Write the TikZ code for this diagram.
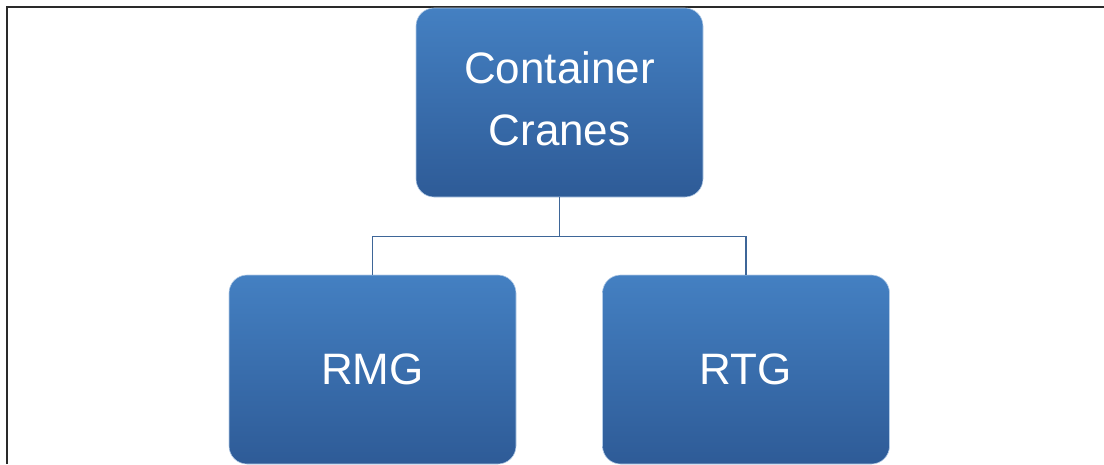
\documentclass[tikz,border=0pt]{standalone}
\usepackage{fontspec}
\setmainfont{Liberation Sans}
\definecolor{boxtop}{HTML}{4480C2}
\definecolor{boxmid}{HTML}{2A6CB3}
\definecolor{boxbot}{HTML}{2E5B97}
\definecolor{linkblue}{HTML}{3E6698}
\definecolor{framegray}{HTML}{2A2A2A}
\tikzset{
  orgbox/.style={rectangle, rounded corners=18pt, minimum width=287pt,
    top color=boxtop, middle color=boxmid, bottom color=boxbot,
    draw=boxtop!40!white, line width=0.6pt,
    text=white, align=center, inner sep=0pt,
    font=\fontsize{44}{62}\selectfont},
  link/.style={draw=linkblue, line width=1.6pt}
}
\begin{document}
\begin{tikzpicture}[x=1pt,y=-1pt]
  \useasboundingbox (0,0) rectangle (1104,464);
  % page frame: left and top edges
  \draw[framegray, line width=2pt] (6.5,464) -- (6.5,6.5) -- (1104,6.5);
  % boxes
  \node[orgbox, minimum height=189pt, text depth=7pt] (top) at (559.5,102.5) {Container\\Cranes};
  \node[orgbox, minimum height=189pt] (rmg) at (372.5,369.5) {RMG};
  \node[orgbox, minimum height=189pt] (rtg) at (746,369.5) {RTG};
  % connectors
  \coordinate (bus) at (559.5,236.5);
  \draw[link] (top.south) -- (bus);
  \draw[link] (bus) -| (rmg.north);
  \draw[link] (bus) -| (rtg.north);
\end{tikzpicture}
\end{document}
